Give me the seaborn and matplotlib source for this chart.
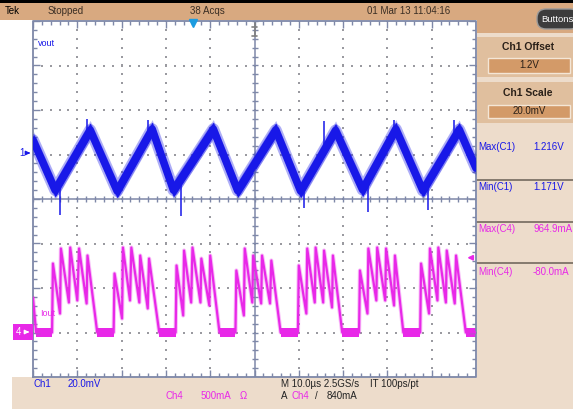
import numpy as np
import pandas as pd
import matplotlib
matplotlib.use("Agg")
import matplotlib.pyplot as plt
import seaborn as sns
from matplotlib.patches import Rectangle, FancyBboxPatch

# ---------------------------------------------------------------
# values
# time axis: microseconds, 0 = centre of screen, 10 us/div
# ---------------------------------------------------------------
ch1_offset = 1.2      # V
ch1_scale = 0.02      # V/div
ch1_ref_div = 1       # "1->" marker position
ch4_scale = 500       # mA/div
ch4_ref_div = -3      # "4->" marker position
trig_level = 840      # mA, Ch4 rising
trig_time = -13.9     # us

# vout (Ch1) - centre of the noisy band, volts
blue_t = [-50.0, -45.0, -37.1, -31.0, -23.1, -18.3, -9.3, -3.8,
          4.8, 10.4, 18.3, 24.4, 31.9, 38.0, 46.2, 50.0]
blue_v = [1.2065, 1.1840, 1.2110, 1.1836, 1.2114, 1.1840, 1.2114, 1.1838,
          1.2110, 1.1836, 1.2108, 1.1842, 1.2114, 1.1838, 1.2112, 1.1939]
blue_noise = 0.0032   # half width of the noise band, V

# a few single spikes sticking out of the band
spike_t = [-43.9, -37.8, -24.0, -16.7, 11.1, 15.6, 25.6, 31.4, 39.1, 45.0]
spike_lo = [1.1728, 1.2080, 1.2079, 1.1724, 1.1760, 1.2018, 1.1742, 1.2093, 1.1751, 1.2069]
spike_hi = [1.1878, 1.2160, 1.2155, 1.1888, 1.1860, 1.2150, 1.1876, 1.2155, 1.1875, 1.2155]

# Iout (Ch4) - burst mode inductor current, mA
pink_t = [-50.0, -49.3, -45.7, -45.5, -43.9, -43.7, -41.9, -41.6, -40.0, -39.6, -37.9, -37.7, -35.5,
          -31.8, -31.6, -29.9, -29.7, -28.1, -27.8, -26.0, -25.8, -24.1, -23.8, -21.5,
          -17.8, -17.6, -16.1, -15.9, -14.3, -14.0, -12.2, -12.0, -10.2, -10.0, -7.9,
          -4.3, -4.1, -2.4, -2.2, -0.5, -0.3, 1.5, 1.7, 3.5, 3.8, 5.9,
          9.8, 10.0, 11.7, 11.9, 13.6, 13.8, 15.5, 15.7, 17.5, 17.7, 19.8,
          23.6, 23.8, 25.5, 25.7, 27.5, 27.7, 29.5, 29.7, 31.5, 31.7, 33.6,
          37.4, 37.6, 39.4, 39.6, 41.3, 41.5, 43.2, 43.4, 45.2, 45.5, 47.7,
          50.0]
pink_i = [390, 0, 0, 775, 213, 944, 337, 955, 360, 944, 326, 865, 0,
          0, 663, 157, 955, 360, 955, 337, 865, 270, 831, 0,
          0, 753, 191, 921, 337, 955, 337, 831, 303, 865, 0,
          0, 697, 191, 944, 337, 865, 326, 865, 326, 809, 0,
          0, 753, 213, 944, 337, 955, 337, 921, 281, 865, 0,
          0, 697, 213, 944, 360, 955, 360, 944, 303, 865, 0,
          0, 775, 213, 944, 360, 955, 337, 921, 326, 865, 0,
          0]
flat_noise = 50       # mA, half width of the noise while the current is zero

# readouts
meas_names = ["Max(C1)", "Min(C1)", "Max(C4)", "Min(C4)"]
meas_values = ["1.216V", "1.171V", "964.9mA", "-80.0mA"]

# ---------------------------------------------------------------
# colours / layout (pixels of the 573x409 screenshot)
# ---------------------------------------------------------------
BLUE = "#1818e8"
PINK = "#e828e8"
TAN = "#d8a980"
PANEL = "#eddccb"
BOX = "#e0bf9e"
FIELD = "#d39a68"
GRAT = "#7e88a8"
DOTS = "#9a9aa0"
DARK = "#3a2e24"

W, H = 573, 409
GX0, GX1, GY0, GY1 = 33, 476, 21, 377
PXX = (GX1 - GX0) / 100.0     # pixels per us
PXY = (GY1 - GY0) / 8.0       # pixels per div

sns.set_style("white")
plt.rcParams["font.family"] = ["Liberation Sans Narrow", "Liberation Sans", "DejaVu Sans"]

fig = plt.figure(figsize=(W / 100, H / 100), dpi=100)
fig.patch.set_facecolor("white")

# background layer in pixel coordinates
bg = fig.add_axes([0, 0, 1, 1], zorder=0)
bg.set_xlim(0, W)
bg.set_ylim(H, 0)
bg.axis("off")


def box(x0, y0, x1, y1, color, ec="none", lw=0):
    bg.add_patch(Rectangle((x0, y0), x1 - x0, y1 - y0, facecolor=color, edgecolor=ec, lw=lw))


box(0, 0, W, 3, "black")
box(0, 3, W, 20, TAN)
box(GX1 + 1, 20, W, 33, TAN)
box(GX1 + 1, 33, W, GY1, PANEL)
box(12, GY1, W, H, PANEL)
box(GX1 + 1, 37, W, 77, BOX)
box(GX1 + 1, 82, W, 123, BOX)
box(488, 58, 570, 73, FIELD, ec="#f4e6d6", lw=1)
box(488, 105, 570, 118, FIELD, ec="#f4e6d6", lw=1)
for yy in [180, 222, 263]:
    bg.plot([GX1 + 1, W], [yy, yy], color="#857a6e", lw=1.4)

# graticule axes: x in us, y in divisions
ax = fig.add_axes([GX0 / W, 1 - GY1 / H, (GX1 - GX0) / W, (GY1 - GY0) / H], zorder=1)
ax.axis("off")

xm = np.arange(-50, 50.01, 2)
ym = np.arange(-4, 4.01, 0.2)
xmaj = np.abs(np.round(xm) % 10) < 0.01
ymaj = np.abs(np.round(ym * 5) % 5) < 0.01

# dotted grid
for gx in range(-40, 41, 10):
    if gx != 0:
        ax.scatter(np.full(len(ym), gx), ym, s=1.2, marker="s", color=DOTS, lw=0)
for gy in range(-3, 4):
    if gy != 0:
        ax.scatter(xm, np.full(len(xm), gy), s=1.2, marker="s", color=DOTS, lw=0)

# border with inward ticks
ax.plot([-50, 50, 50, -50, -50], [-4, -4, 4, 4, -4], color=GRAT, lw=1.3, clip_on=False)
lx = np.where(xmaj, 7, 4) / PXY
ly = np.where(ymaj, 7, 4) / PXX
ax.vlines(xm, 4 - lx, 4, color=GRAT, lw=1)
ax.vlines(xm, -4, -4 + lx, color=GRAT, lw=1)
ax.hlines(ym, -50, -50 + ly, color=GRAT, lw=1)
ax.hlines(ym, 50 - ly, 50, color=GRAT, lw=1)
# centre cross with ticks
ax.plot([-50, 50], [0, 0], color=GRAT, lw=1.1)
ax.plot([0, 0], [-4, 4], color=GRAT, lw=1.1)
ax.vlines(xm, -3 / PXY, 3 / PXY, color=GRAT, lw=1)
ax.hlines(ym, -3 / PXX, 3 / PXX, color=GRAT, lw=1)

# Ch1 trace: a thick noisy band
blue_div = ch1_ref_div + (np.array(blue_v) - ch1_offset) / ch1_scale
band = blue_noise / ch1_scale
ax.fill_between(blue_t, blue_div - 1.35 * band, blue_div + 1.35 * band, color=BLUE, alpha=0.3, lw=0)
ax.fill_between(blue_t, blue_div - band, blue_div + band, color=BLUE, lw=0)
blue_df = pd.DataFrame({"t": blue_t, "div": blue_div})
sns.lineplot(data=blue_df, x="t", y="div", ax=ax, color=BLUE, lw=8.5, alpha=0.35,
             sort=False, estimator=None)
sns.lineplot(data=blue_df, x="t", y="div", ax=ax, color=BLUE, lw=5.5,
             sort=False, estimator=None)
ax.vlines(spike_t, ch1_ref_div + (np.array(spike_lo) - ch1_offset) / ch1_scale,
          ch1_ref_div + (np.array(spike_hi) - ch1_offset) / ch1_scale, color=BLUE, lw=1.1)

# Ch4 trace
pink_div = ch4_ref_div + np.array(pink_i) / ch4_scale
fn = flat_noise / ch4_scale
for k in range(len(pink_t) - 1):
    if pink_i[k] == 0 and pink_i[k + 1] == 0:
        ax.fill_between([pink_t[k], pink_t[k + 1]], ch4_ref_div - fn, ch4_ref_div + fn,
                        color=PINK, lw=0)
pink_df = pd.DataFrame({"t": pink_t, "div": pink_div})
sns.lineplot(data=pink_df, x="t", y="div", ax=ax, color=PINK, lw=3.0, alpha=0.3,
             sort=False, estimator=None)
sns.lineplot(data=pink_df, x="t", y="div", ax=ax, color=PINK, lw=1.6,
             sort=False, estimator=None)

# trigger markers
trig_div = ch4_ref_div + trig_level / ch4_scale
ax.annotate("", xy=(47.4, trig_div), xytext=(50, trig_div),
            arrowprops=dict(arrowstyle="-|>", color=PINK, lw=1.3, mutation_scale=7))
ax.plot([trig_time], [4 - 1.5 / PXY], marker="v", ms=6, color="#1c9ce0", clip_on=False)
ax.plot([0, 0], [4 - 2 / PXY, 4 - 15 / PXY], color="#808080", lw=1.2)
ax.plot([-2.5 / PXX, 2.5 / PXX], [4 - 6 / PXY] * 2, color="#808080", lw=1.2)
ax.plot([-2.5 / PXX, 2.5 / PXX], [4 - 15 / PXY] * 2, color="#808080", lw=1.2)

ax.set_xlim(-50, 50)
ax.set_ylim(-4, 4)

# overlay layer for texts and channel markers
ov = fig.add_axes([0, 0, 1, 1], zorder=2)
ov.set_xlim(0, W)
ov.set_ylim(H, 0)
ov.axis("off")


def txt(x, y, s, color=DARK, size=7, **kw):
    ov.text(x, y, s, color=color, fontsize=size, va="center", **kw)


# top status bar
txt(5, 11, "Tek", "black")
txt(48, 11, "Stopped")
txt(190, 11, "38 Acqs")
txt(367, 11, "01 Mar 13 11:04:16")
ov.add_patch(FancyBboxPatch((537, 9), 42, 20, boxstyle="round,pad=0,rounding_size=9",
                            facecolor="#3c3c3c", edgecolor="#9a9a9a", lw=1))
txt(541, 19, "Buttons", "white", 6.8)

# side panel
txt(528, 47, "Ch1 Offset", "#2a2018", 7.5, ha="center", weight="bold")
txt(529, 65.5, "1.2V", "#2a2018", 7, ha="center")
txt(528, 93, "Ch1 Scale", "#2a2018", 7.5, ha="center", weight="bold")
txt(529, 111.5, "20.0mV", "#2a2018", 7, ha="center")
for name, val, yy, col in zip(meas_names, meas_values, [147, 187, 229, 272],
                              [BLUE, BLUE, PINK, PINK]):
    txt(478, yy, name, col)
    txt(533, yy, val, col)

# labels on the graticule
txt(38, 44, "vout", BLUE, 6.5)
txt(40, 314, "Iout", PINK, 6.5)
txt(19, 153, "1", BLUE, 7)
ov.annotate("", xy=(33, 153), xytext=(25, 153),
            arrowprops=dict(arrowstyle="-|>", color=BLUE, lw=1, mutation_scale=6))
ov.add_patch(Rectangle((13, 324), 20, 16, facecolor=PINK, edgecolor="none"))
txt(16, 332, "4", "white", 7)
ov.annotate("", xy=(32, 332), xytext=(24, 332),
            arrowprops=dict(arrowstyle="-|>", color="white", lw=1, mutation_scale=6))

# bottom readout strip
txt(33, 384, "Ch1", BLUE)
txt(68, 384, "20.0mV", BLUE)
txt(166, 396, "Ch4", PINK)
txt(201, 396, "500mA", PINK)
txt(240, 396, "Ω", PINK)
txt(281, 384, "M 10.0µs 2.5GS/s", "#222222")
txt(370, 384, "IT 100ps/pt", "#222222")
txt(281, 396, "A", "#222222")
txt(292, 396, "Ch4", PINK)
txt(315, 396, "/", "#222222")
txt(327, 396, "840mA", "#222222")

fig.savefig("out.png", dpi=100)
plt.close(fig)
